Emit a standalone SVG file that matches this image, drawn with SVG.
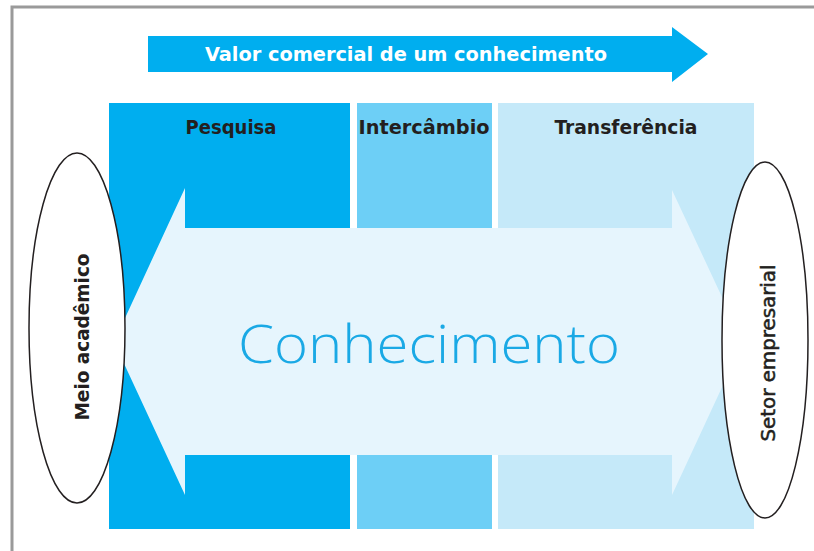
<svg xmlns="http://www.w3.org/2000/svg" width="814" height="551" viewBox="0 0 814 551">
<style>
.hdr{font-family:"DejaVu Sans Condensed","DejaVu Sans","Liberation Sans",sans-serif;font-weight:bold;font-size:19px;fill:#231f20;text-anchor:middle}
.side{font-family:"DejaVu Sans Condensed","DejaVu Sans","Liberation Sans",sans-serif;font-size:20px;fill:#231f20;text-anchor:middle}
.oval{fill:#ffffff;stroke:#231f20;stroke-width:1.5}
</style>
<rect x="0" y="0" width="814" height="551" fill="#ffffff"/>
<g id="frame">
<path d="M12,551 V7 H814" fill="none" stroke="#9a9a9a" stroke-width="3"/>
</g>
<g id="valor-arrow">
<path d="M148,36 H672 V27 L708,54 L672,82 V72 H148 Z" fill="#00aeef"/>
<text x="406" y="61" font-family="'DejaVu Sans Condensed','DejaVu Sans',sans-serif" font-weight="bold" font-size="20" fill="#ffffff" text-anchor="middle" textLength="402" lengthAdjust="spacingAndGlyphs">Valor comercial de um conhecimento</text>
</g>
<g id="pesquisa">
<rect x="109" y="103" width="241" height="426" fill="#00aeef"/>
<text class="hdr" x="231" y="134" textLength="91" lengthAdjust="spacingAndGlyphs">Pesquisa</text>
</g>
<g id="intercambio">
<rect x="357" y="103" width="135" height="426" fill="#6dcff6"/>
<text class="hdr" x="424" y="134" textLength="131" lengthAdjust="spacingAndGlyphs">Intercâmbio</text>
</g>
<g id="transferencia">
<rect x="498" y="103" width="256" height="426" fill="#c5e9f9"/>
<text class="hdr" x="626" y="134" textLength="143" lengthAdjust="spacingAndGlyphs">Transferência</text>
</g>
<g id="conhecimento">
<path d="M114,342 L185,188 V228 H672 V190 L743,342 L672,495 V455 H185 V495 Z" fill="#e6f5fd"/>
<text x="429" y="363" font-family="'Open Sans','Lato',sans-serif" font-weight="300" font-size="54" fill="#1aa9e5" text-anchor="middle" textLength="382" lengthAdjust="spacingAndGlyphs">Conhecimento</text>
</g>
<g id="meio-academico">
<ellipse class="oval" cx="77" cy="328" rx="48" ry="175"/>
<text class="side" font-weight="bold" transform="translate(89,337) rotate(-90)" textLength="167" lengthAdjust="spacingAndGlyphs">Meio acadêmico</text>
</g>
<g id="setor-empresarial">
<ellipse class="oval" cx="765" cy="340" rx="43" ry="178"/>
<text class="side" stroke="#231f20" stroke-width="0.5" transform="translate(775,353) rotate(-90)" textLength="177" lengthAdjust="spacingAndGlyphs">Setor empresarial</text>
</g>
<g id="connectors"></g>
</svg>
